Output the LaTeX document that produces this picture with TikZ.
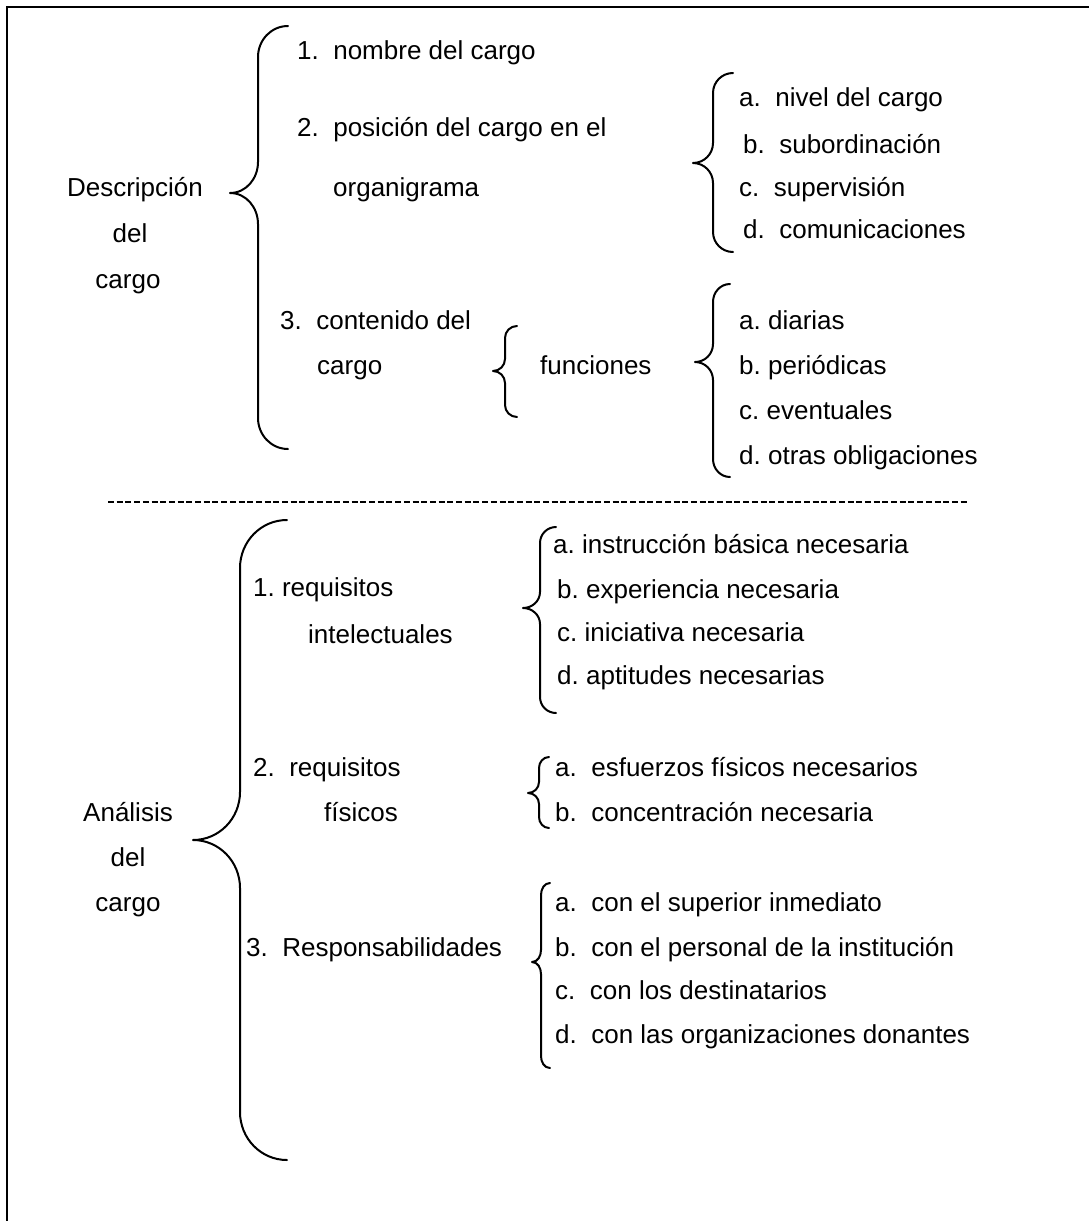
\documentclass[tikz,border=0pt]{standalone}
\usepackage{fontspec}
\setmainfont{Liberation Sans}
\begin{document}
\begin{tikzpicture}[x=1pt,y=1pt,
  txt/.style={font=\fontsize{26}{31}\selectfont\frenchspacing, inner sep=0pt,
              text height=18.6pt, text depth=5.5pt},
  lbl/.style={txt, anchor=west},
  ctr/.style={txt, anchor=center},
  bracestyle/.style={draw=black, line width=2pt, line cap=round, line join=round},
  frame/.style={draw=black, line width=2.6pt},
  sep/.style={draw=black, line width=1.4pt, dash pattern=on 6pt off 2.7pt}]
\useasboundingbox (0,0) rectangle (1089,-1221);

% curly brace: #1 end x, #2 top y, #3 spine x, #4 tip x, #5 tip y, #6 bottom y, #7 curl radius
\newcommand\curlbrace[7]{%
  \draw[bracestyle] (#1,-#2) to[out=180,in=90] (#3,-#2-#7) -- (#3,-#5+#7)
    to[out=270,in=0] (#4,-#5) to[out=0,in=90] (#3,-#5-#7) -- (#3,-#6+#7)
    to[out=270,in=180] (#1,-#6);
  \coordinate (tip#4x#5) at (#4,-#5);}

% open frame (top and left edges)
\draw[frame] (1089,-7) -- (7,-7) -- (7,-1221);

% ---------------- Descripción del cargo ----------------
\node[ctr] (desc1) at (135,-190) {Descripción};
\node[ctr] (desc2) at (130,-236) {del};
\node[ctr] (desc3) at (128,-282) {cargo};

\curlbrace{288}{26}{258}{230}{193}{449}{31}

\node[lbl] (d1) at (297,-53) {1.\ \ nombre del cargo};
\node[lbl] (d2) at (297,-130) {2.\ \ posición del cargo en el};
\node[lbl] (d2x) at (333,-190) {organigrama};

\curlbrace{733}{73}{713}{693}{163}{252}{20}
\node[lbl] (d2a) at (739,-100) {a.\ \ nivel del cargo};
\node[lbl] (d2b) at (743,-147) {b.\ \ subordinación};
\node[lbl] (d2c) at (739,-190) {c.\ \ supervisión};
\node[lbl] (d2d) at (743,-232) {d.\ \ comunicaciones};

\node[lbl] (d3) at (280,-323) {3.\ \ contenido del};
\node[lbl] (d3x) at (317,-368) {cargo};

\curlbrace{517}{326}{505}{493}{371}{417}{12}
\node[lbl] (fun) at (540,-368) {funciones};

\curlbrace{730}{284}{713}{695}{362}{477}{18}
\node[lbl] (fa) at (739,-323) {a. diarias};
\node[lbl] (fb) at (739,-368) {b. periódicas};
\node[lbl] (fc) at (739,-413) {c. eventuales};
\node[lbl] (fd) at (739,-458) {d. otras obligaciones};

% separator
\coordinate (sepL) at (108,-502);
\coordinate (sepR) at (968,-502);
\draw[sep] (sepL) -- (sepR);

% ---------------- Análisis del cargo ----------------
\node[ctr] (an1) at (128,-815) {Análisis};
\node[ctr] (an2) at (128,-860) {del};
\node[ctr] (an3) at (128,-905) {cargo};

\curlbrace{287}{520}{240}{193}{840}{1160}{48}

\node[lbl] (r1) at (253,-590) {1. requisitos};
\node[lbl] (r1x) at (308,-637) {intelectuales};
\curlbrace{556}{527}{540}{523}{608}{713}{16}
\node[lbl] (r1a) at (553,-547) {a. instrucción básica necesaria};
\node[lbl] (r1b) at (557,-592) {b. experiencia necesaria};
\node[lbl] (r1c) at (557,-635) {c. iniciativa necesaria};
\node[lbl] (r1d) at (557,-678) {d. aptitudes necesarias};

\node[lbl] (r2) at (253,-770) {2.\ \ requisitos};
\node[lbl] (r2x) at (324,-815) {físicos};
\curlbrace{549}{757}{539}{528}{793}{828}{11}
\node[lbl] (r2a) at (555,-770) {a.\ \ esfuerzos físicos necesarios};
\node[lbl] (r2b) at (555,-815) {b.\ \ concentración necesaria};

\node[lbl] (r3) at (246,-950) {3.\ \ Responsabilidades};
\curlbrace{550}{883}{541}{532}{962}{1068}{12}
\node[lbl] (r3a) at (555,-905) {a.\ \ con el superior inmediato};
\node[lbl] (r3b) at (555,-950) {b.\ \ con el personal de la institución};
\node[lbl] (r3c) at (555,-993) {c.\ \ con los destinatarios};
\node[lbl] (r3d) at (555,-1037) {d.\ \ con las organizaciones donantes};
\end{tikzpicture}
\end{document}
